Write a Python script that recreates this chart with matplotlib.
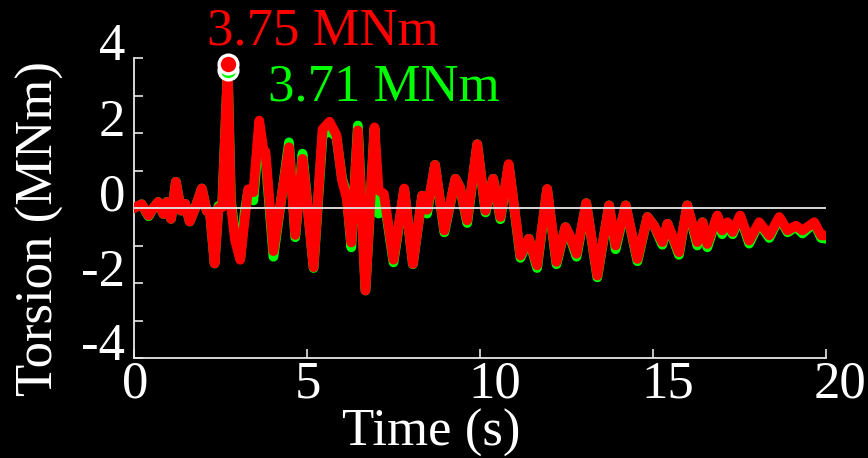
import matplotlib
matplotlib.use('Agg')
import matplotlib.pyplot as plt
from matplotlib.transforms import ScaledTranslation

# torsion time history (time in s, torsion in MNm)
time_s = [0.00, 0.22, 0.42, 0.56, 0.70, 0.85, 0.95, 1.07, 1.21, 1.36, 1.48, 1.61,
          1.77, 1.96, 2.10, 2.20, 2.33, 2.44, 2.55, 2.71, 2.80, 2.92, 3.07, 3.20,
          3.30, 3.45, 3.62, 3.74, 3.80, 4.03, 4.48, 4.66, 4.87, 4.95, 5.19, 5.45,
          5.65, 5.85, 6.01, 6.15, 6.28, 6.47, 6.69, 6.95, 7.07, 7.22, 7.50, 7.81,
          8.06, 8.33, 8.47, 8.70, 8.97, 9.29, 9.42, 9.63, 9.92, 10.16, 10.38, 10.59,
          10.83, 11.17, 11.41, 11.65, 11.94, 12.21, 12.47, 12.58, 12.79, 13.07, 13.39, 13.73,
          13.92, 14.21, 14.55, 14.84, 15.03, 15.27, 15.42, 15.75, 15.99, 16.28, 16.43, 16.57,
          16.86, 17.00, 17.15, 17.30, 17.52, 17.78, 18.07, 18.36, 18.65, 18.89, 19.13, 19.32,
          19.66, 19.86, 20.00]

red_mnm = [0.00, 0.10, -0.20, 0.00, 0.16, -0.16, 0.16, -0.29, 0.70, -0.07, 0.11, -0.36,
           0.00, 0.52, -0.07, -0.15, -1.48, 0.00, 0.02, 3.75, 0.10, -0.85, -1.38, -0.30,
           0.50, 0.42, 2.33, 1.55, 1.50, -1.15, 1.62, -0.72, 1.31, 0.65, -1.58, 2.10,
           2.30, 1.95, 0.75, 0.25, -0.92, 2.07, -2.20, 2.15, 0.47, 0.38, -1.38, 0.52,
           -1.49, 0.33, -0.05, 1.15, -0.60, 0.78, 0.55, -0.33, 1.70, -0.07, 0.78, -0.24,
           1.17, -1.27, -0.82, -1.53, 0.51, -1.44, -0.51, -0.70, -1.22, 0.13, -1.80, 0.07,
           -1.00, 0.07, -1.36, -0.24, -0.47, -0.91, -0.42, -1.18, 0.07, -0.91, -0.38, -0.96,
           -0.20, -0.60, -0.38, -0.64, -0.20, -0.87, -0.38, -0.73, -0.24, -0.60, -0.47, -0.60,
           -0.38, -0.73, -0.73]

green_mnm = [0.00, 0.10, -0.22, 0.00, 0.16, -0.16, 0.16, -0.29, 0.70, -0.07, 0.11, -0.36,
             0.00, 0.52, -0.07, -0.15, -1.48, 0.05, 0.10, 3.71, 0.20, -0.70, -1.35, -0.10,
             0.45, 0.20, 2.10, 1.30, 1.35, -1.30, 1.75, -0.78, 1.45, 0.70, -1.60, 1.95,
             2.05, 1.90, 0.80, 0.35, -1.05, 2.20, -2.20, 2.12, -0.15, 0.30, -1.45, 0.50,
             -1.50, 0.33, -0.15, 1.15, -0.65, 0.78, 0.55, -0.40, 1.70, -0.12, 0.78, -0.30,
             1.15, -1.33, -0.82, -1.60, 0.50, -1.50, -0.51, -0.72, -1.30, 0.13, -1.85, 0.07,
             -1.10, 0.07, -1.42, -0.24, -0.47, -0.98, -0.42, -1.25, 0.07, -1.00, -0.38, -1.05,
             -0.22, -0.70, -0.40, -0.70, -0.22, -0.95, -0.40, -0.80, -0.26, -0.65, -0.50, -0.68,
             -0.40, -0.80, -0.82]

# peak markers as drawn in the reference
peak_t = 2.73
peak_red = 3.84
peak_green = 3.68
label_red = '3.75 MNm'
label_green = '3.71 MNm'

x_ticks = [0, 5, 10, 15, 20]
y_ticks = [-4, -3, -2, -1, 0, 1, 2, 3, 4]
y_ticklabels = ['-4', '', '-2', '', '0', '', '2', '', '4']

plt.rcParams['font.family'] = ['Liberation Serif', 'DejaVu Serif']
plt.rcParams['axes.unicode_minus'] = False

fig = plt.figure(figsize=(8.68, 4.58), dpi=100, facecolor='black')
ax = fig.add_axes([134 / 868, 100 / 458, 692 / 868, 300 / 458])
ax.set_facecolor('black')

ax.plot(time_s, green_mnm, color='#00ff00', lw=7, zorder=2)
ax.plot(time_s, red_mnm, color='#ff0000', lw=7, zorder=3)
ax.axhline(0, color='#e8e8e8', lw=1.3, zorder=4)

ax.plot([peak_t], [peak_green], 'o', ms=13.5, mfc='#00ff00', mec='white', mew=2.4,
        zorder=5, clip_on=False)
ax.plot([peak_t], [peak_red], 'o', ms=13.5, mfc='#ff0000', mec='white', mew=2.4,
        zorder=6, clip_on=False)

ax.text(2.11, 4.36, label_red, color='#ff0000', fontsize=38, ha='left', va='baseline')
ax.text(3.88, 2.87, label_green, color='#00ff00', fontsize=38, ha='left', va='baseline')

ax.set_xlim(0, 20)
ax.set_ylim(-4, 4)
for side in ['top', 'right']:
    ax.spines[side].set_visible(False)
for side in ['left', 'bottom']:
    ax.spines[side].set_color('#e8e8e8')
    ax.spines[side].set_linewidth(1.3)

ax.set_xticks(x_ticks)
ax.set_yticks(y_ticks)
ax.set_yticklabels(y_ticklabels)
ax.tick_params(direction='in', length=6.5, width=1.2, colors='#e8e8e8',
               labelcolor='white', labelsize=38)
ax.tick_params(axis='x', pad=2)
ax.tick_params(axis='y', pad=6.5)

# the reference draws its tick labels slightly off the tick marks
for lbl in ax.get_yticklabels():
    lbl.set_transform(lbl.get_transform() + ScaledTranslation(0, 0.16, fig.dpi_scale_trans))
for lbl in ax.get_xticklabels():
    lbl.set_horizontalalignment('left')
    lbl.set_transform(lbl.get_transform() + ScaledTranslation(-0.12, 0, fig.dpi_scale_trans))

ax.set_xlabel('Time (s)', color='white', fontsize=38)
ax.xaxis.set_label_coords(0.429, -0.17)
ax.set_ylabel('Torsion (MNm)', color='white', fontsize=38, va='center')
ax.yaxis.set_label_coords(-0.136, 0.43)

fig.savefig('out.png', dpi=100, facecolor='black')
